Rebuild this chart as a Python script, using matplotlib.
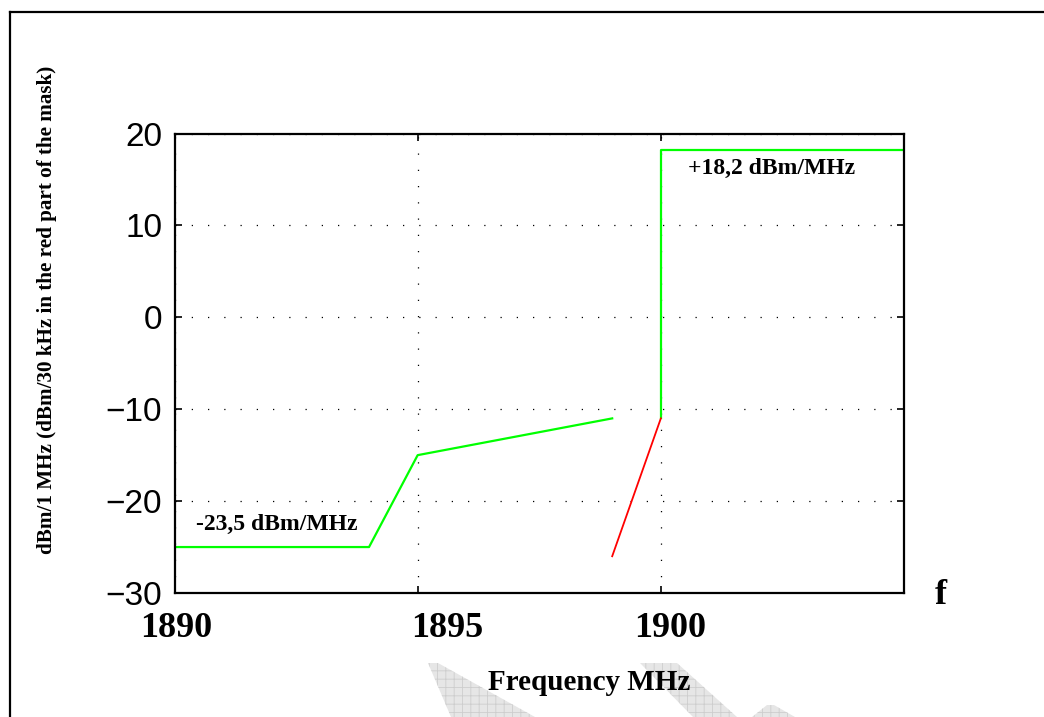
import matplotlib
matplotlib.use('Agg')
import matplotlib.pyplot as plt
from matplotlib.lines import Line2D
from matplotlib.patches import Polygon
from matplotlib.transforms import ScaledTranslation

# ---------------- data ----------------
green_low_f = [1890, 1894, 1895, 1899]
green_low_db = [-25, -25, -15, -11]
green_high_f = [1900, 1900, 1905]
green_high_db = [-11, 18.2, 18.2]
red_f = [1899, 1900]
red_db = [-26, -11]

xticks = [1890, 1895, 1900]
xtick_labels = ['1890', '1895', '1900']
yticks = [-30, -20, -10, 0, 10, 20]
ytick_labels = ['\u221230', '\u221220', '\u221210', '0', '10', '20']

label_low = '-23,5 dBm/MHz'
label_high = '+18,2 dBm/MHz'
ylabel_text = 'dBm/1 MHz (dBm/30 kHz in the red part of the mask)'
xlabel_text = 'Frequency MHz'

# ---------------- figure ----------------
W, H = 1044, 717
DPI = 100
SERIF = ['Liberation Serif', 'DejaVu Serif']
SANS = ['Liberation Sans', 'DejaVu Sans']
plt.rcParams['hatch.linewidth'] = 0.6

fig = plt.figure(figsize=(W / DPI, H / DPI), dpi=DPI)
fig.patch.set_facecolor('white')


def fx(px):
    return px / W


def fy(py):
    return 1 - py / H


# watermark shapes (decorative, figure pixel coords)
wm_shapes = [
    [(428, 663), (438, 663), (535, 717), (451, 717)],
    [(640, 663), (677, 663), (737, 717), (693, 717)],
    [(767, 705), (774, 705), (795, 717), (752, 717)],
]
for shp in wm_shapes:
    poly = Polygon([(fx(x), fy(y)) for x, y in shp], closed=True,
                   transform=fig.transFigure, facecolor='#e6e6e6',
                   edgecolor='#cdcdcd', hatch='++', linewidth=0, zorder=0)
    fig.patches.append(poly)

# outer frame (left and top)
fig.lines.append(Line2D([fx(10), fx(10)], [fy(12), fy(717)],
                        transform=fig.transFigure, color='black', lw=1.6))
fig.lines.append(Line2D([fx(10), fx(1044)], [fy(12), fy(12)],
                        transform=fig.transFigure, color='black', lw=1.6))

ax = fig.add_axes([fx(174.5), fy(593), fx(904) - fx(174.5), (593 - 133.5) / H])
ax.set_facecolor('white')

ax.plot(green_low_f, green_low_db, color='#00ff00', lw=1.6, zorder=3)
ax.plot(green_high_f, green_high_db, color='#00ff00', lw=1.6, zorder=3)
ax.plot(red_f, red_db, color='#ff0000', lw=1.3, zorder=3)

ax.set_xlim(1890, 1905)
ax.set_ylim(-30, 20)

ax.set_xticks(xticks)
ax.set_xticklabels(xtick_labels, fontfamily=SERIF, fontweight='bold', fontsize=26)
ax.set_yticks(yticks)
ax.set_yticklabels(ytick_labels, fontfamily=SANS, fontsize=24)

ax.tick_params(axis='both', direction='in', length=5, width=1.2,
               top=True, right=True, colors='black')
ax.tick_params(axis='x', pad=14)
ax.tick_params(axis='y', pad=9)

x_offsets_px = [2, 30, 9]
for lab, dx in zip(ax.get_xticklabels(), x_offsets_px):
    lab.set_transform(lab.get_transform() +
                      ScaledTranslation(dx / DPI, 0, fig.dpi_scale_trans))

ax.grid(True, color='black', linestyle=(0, (1, 12)), linewidth=0.9)
for sp in ax.spines.values():
    sp.set_linewidth(1.6)
    sp.set_zorder(4)

ax.text(1890.45, -22.5, label_low, fontfamily=SERIF, fontweight='bold',
        fontsize=17, ha='left', va='center')
ax.text(1900.55, 16.2, label_high, fontfamily=SERIF, fontweight='bold',
        fontsize=17, ha='left', va='center')

fig.text(fx(941), fy(596), 'f', fontfamily=SERIF, fontweight='bold',
         fontsize=26, ha='center', va='center')
fig.text(fx(589), fy(683), xlabel_text, fontfamily=SERIF, fontweight='bold',
         fontsize=21, ha='center', va='center')
fig.text(fx(47), fy(310), ylabel_text, fontfamily=SERIF, fontweight='bold',
         fontsize=15.2, ha='center', va='center', rotation=90)

fig.savefig('out.png', dpi=DPI, facecolor='white')
